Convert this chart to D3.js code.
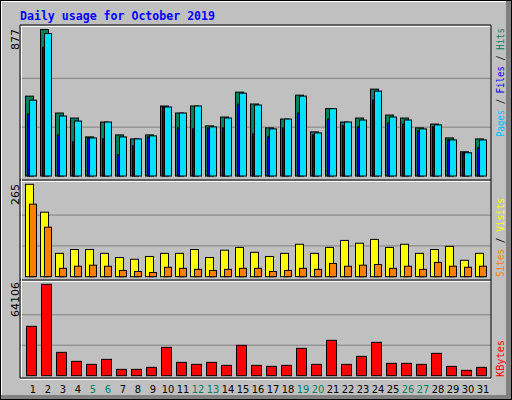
<!DOCTYPE html>
<html><head><meta charset="utf-8">
<script src="https://cdn.jsdelivr.net/npm/d3@7"></script>
<style>body{margin:0;background:#fff}svg{display:block}</style>
</head><body>
<svg width="512" height="400"></svg>
<script>
const days = d3.range(1,32);
const weekends = [5,6,12,13,19,20,26,27];
const hits  = [478,877,377,347,234,323,246,222,246,419,377,419,300,353,502,431,288,341,484,264,403,323,347,520,365,347,288,311,228,145,222];
const files = [454,853,359,329,228,323,234,222,240,413,377,419,294,347,496,425,282,341,478,258,403,323,335,508,353,335,282,306,216,139,216];
const pages = [371,770,246,204,228,222,127,181,234,413,288,282,288,288,431,252,234,288,377,246,341,300,294,454,317,311,270,294,216,139,169];
const visits= [265,185,67,78,78,67,55,50,58,67,67,78,55,76,84,70,58,67,93,67,84,104,96,107,84,93,67,78,87,47,67];
const sites = [208,142,24,30,33,30,18,15,12,27,24,21,18,21,24,24,15,18,24,21,38,30,33,35,24,30,21,41,30,27,30];
const kbytes= [34632,64106,16380,10062,7956,11466,4446,4446,5850,19890,9360,7956,9360,7254,21294,7254,6552,7254,19188,7956,24804,7956,13572,23400,8658,8658,7956,15678,6552,3744,5850];
const maxLabels = ["877","265","64106"];

const svg = d3.select("svg");
const mono = "DejaVu Sans Mono";
// frame
svg.append("rect").attr("width",512).attr("height",400).attr("fill","#000");
svg.append("rect").attr("x",1).attr("y",1).attr("width",510).attr("height",398).attr("fill","#808080");
svg.append("rect").attr("x",1).attr("y",1).attr("width",505).attr("height",394).attr("fill","#fff");
svg.append("rect").attr("x",2).attr("y",2).attr("width",504).attr("height",393).attr("fill","#C0C0C0");

svg.append("text").attr("x",20).attr("y",20).attr("fill","#0000FF").attr("font-family",mono)
  .attr("font-weight","bold").attr("font-size",12).attr("textLength",195).attr("lengthAdjust","spacingAndGlyphs")
  .text("Daily usage for October 2019");

const x = d3.scaleBand().domain(days).range([25,490]).paddingInner(0).paddingOuter(0);
const X0 = 20, X1 = 491;
const panels = [
  {top:25, bot:180, base:176, maxY:29.5, max:877},
  {top:180, bot:280, base:276.7, maxY:184.3, max:265},
  {top:280, bot:378, base:375.7, maxY:284.3, max:64106}
];
panels.forEach((p,i)=>{
  p.y = d3.scaleLinear().domain([0,p.max]).range([p.base,p.maxY]);
  svg.append("line").attr("x1",X0).attr("x2",X1).attr("y1",p.top).attr("y2",p.top).attr("stroke","#000");
  svg.append("line").attr("x1",X0).attr("x2",X1).attr("y1",p.top+1.5).attr("y2",p.top+1.5).attr("stroke","#fff");
  [1/3,2/3].forEach(f=>{
    svg.append("line").attr("x1",X0).attr("x2",X1).attr("y1",p.y(p.max*f)).attr("y2",p.y(p.max*f))
      .attr("stroke","#808080").attr("stroke-width",1);
  });
  svg.append("text").attr("transform",`translate(19,${[29,184,282][i]}) rotate(-90)`).attr("text-anchor","end")
    .attr("font-family","DejaVu Sans").attr("font-size",11).attr("fill","#000").text(maxLabels[i]);
});
// plot borders
svg.append("line").attr("x1",X0).attr("x2",X0).attr("y1",25).attr("y2",378).attr("stroke","#000");
svg.append("line").attr("x1",X0+1.5).attr("x2",X0+1.5).attr("y1",26).attr("y2",378).attr("stroke","#fff");
svg.append("line").attr("x1",X1).attr("x2",X1).attr("y1",25).attr("y2",378).attr("stroke","#000");
svg.append("line").attr("x1",X0).attr("x2",X1).attr("y1",378).attr("y2",378).attr("stroke","#000");
svg.append("line").attr("x1",X0).attr("x2",X1).attr("y1",379.5).attr("y2",379.5).attr("stroke","#fff");

function bars(data,p,dx,w,fill){
  svg.append("g").selectAll("rect").data(data).join("rect")
    .attr("x",(d,i)=>x(days[i])+dx).attr("width",w)
    .attr("y",d=>p.y(d)).attr("height",d=>p.base-p.y(d))
    .attr("fill",fill).attr("stroke","#000").attr("stroke-width",1);
}
const P=panels;
bars(hits,P[0],0.5,8,"#00805C");
bars(files,P[0],4.5,7,"#00E0FF");
bars(pages,P[0],2.5,2,"#0000FF");
bars(visits,P[1],0.5,8,"#FFFF00");
bars(sites,P[1],4.5,7,"#FF8000");
bars(kbytes,P[2],1.5,10,"#FF0000");

svg.append("g").selectAll("text").data(days).join("text")
  .attr("x",d=>x(d)+8).attr("y",393).attr("text-anchor","middle")
  .attr("font-family","DejaVu Sans Condensed").attr("font-size",11)
  .attr("fill",d=>weekends.includes(d)?"#00805C":"#000").text(d=>d);

function sideLabel(yStart,parts,len){
  const t = svg.append("text").attr("transform",`translate(504,${yStart}) rotate(-90)`)
    .attr("font-family",mono).attr("font-size",10).attr("textLength",len).attr("lengthAdjust","spacingAndGlyphs");
  parts.forEach(([s,c])=>t.append("tspan").attr("fill",c).text(s));
}
sideLabel(137,[["Pages","#00C0FF"],[" / ","#000"],["Files","#0000FF"],[" / ","#000"],["Hits","#00805C"]],109);
sideLabel(277,[["Sites","#FF8000"],[" / ","#000"],["Visits","#FFFF00"]],79);
sideLabel(377,[["KBytes","#FF0000"]],37);
</script>
</body></html>
